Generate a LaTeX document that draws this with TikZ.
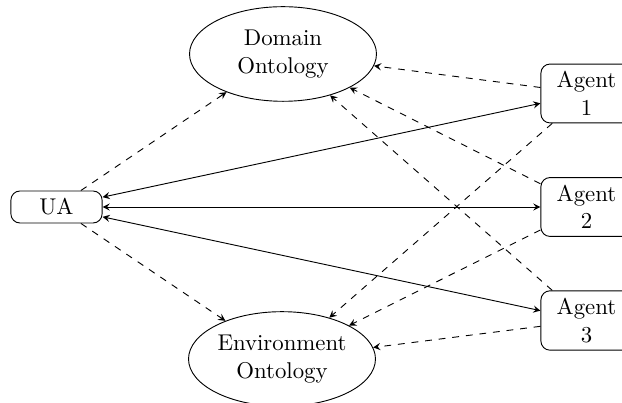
\documentclass[tikz,border=0pt]{standalone}
\usetikzlibrary{shapes.geometric}
\begin{document}
\begin{tikzpicture}[x=0.4386pt,y=-0.4386pt,>=stealth,
  box/.style={draw,rounded corners=4pt,minimum width=40pt,align=center},
  onto/.style={draw,ellipse,inner sep=0pt,align=center,minimum width=82pt,minimum height=41.5pt},
  link/.style={<->},
  feed/.style={->,dashed}]
\useasboundingbox (0,0) rectangle (622,403);
% nodes
\node[box] (ua) at (56.5,207) {UA};
\node[box] (a1) at (586.5,93.5) {Agent\\1};
\node[box] (a2) at (586.5,207) {Agent\\2};
\node[box] (a3) at (586.5,320.5) {Agent\\3};
\node[onto] (dom) at (283,54) {Domain\\Ontology};
\node[onto] (env) at (282,359) {Environment\\Ontology};
% user agent to agents
\draw[link] (ua) -- (a1);
\draw[link] (ua) -- (a2);
\draw[link] (ua) -- (a3);
% links to the ontologies
\draw[feed] (ua) -- (dom);
\draw[feed] (ua) -- (env);
\draw[feed] (a1) -- (dom);
\draw[feed] (a1) -- (env);
\draw[feed] (a2) -- (dom);
\draw[feed] (a2) -- (env);
\draw[feed] (a3) -- (dom);
\draw[feed] (a3) -- (env);
\end{tikzpicture}
\end{document}
